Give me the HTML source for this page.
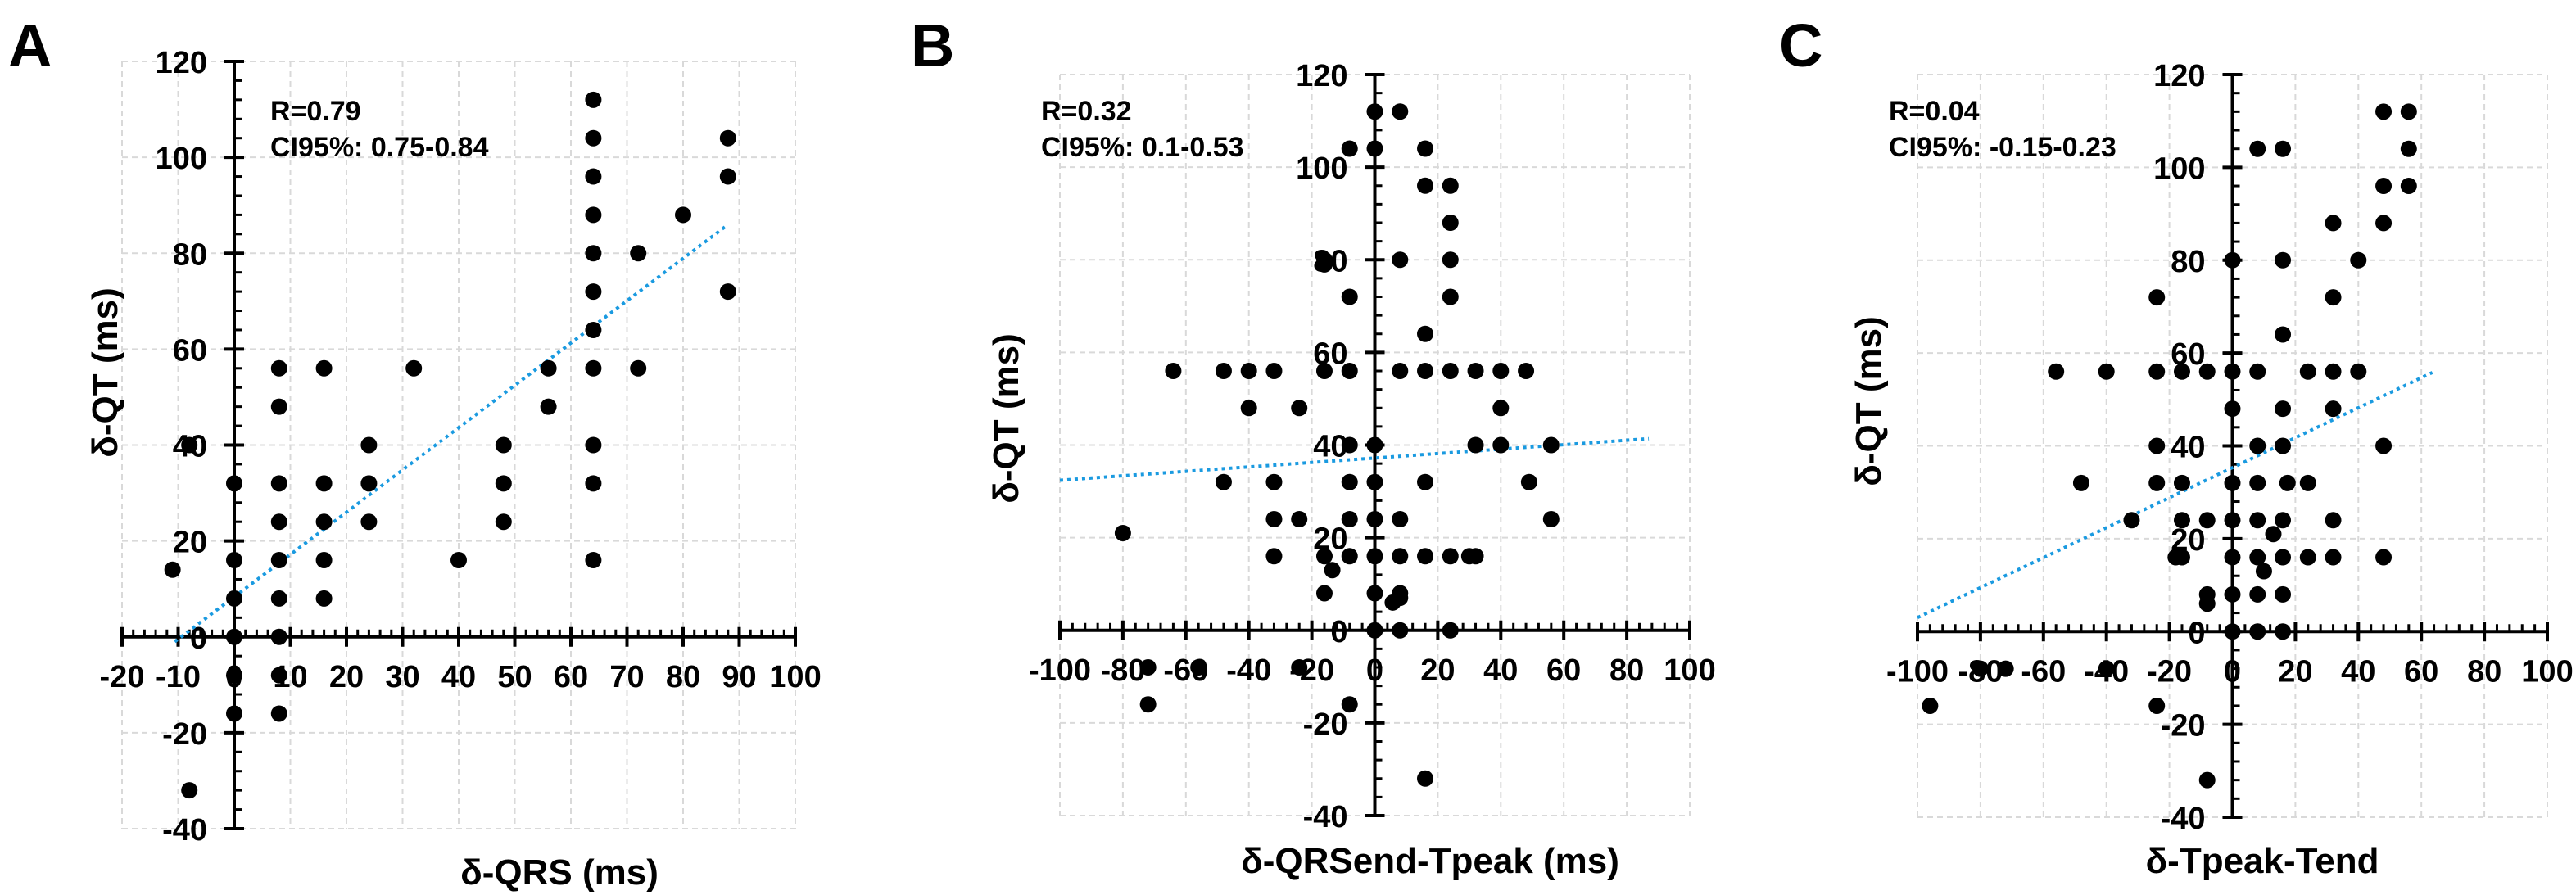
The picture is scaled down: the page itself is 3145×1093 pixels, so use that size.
<!DOCTYPE html>
<html><head><meta charset="utf-8"><style>
html,body{margin:0;padding:0;background:#fff;}
svg{display:block;font-family:"Liberation Sans",Arial,sans-serif;font-weight:bold;}
</style></head><body>
<svg id="fig" width="3145" height="1093" viewBox="0 0 3145 1093" xmlns="http://www.w3.org/2000/svg"></svg>
<script>
// ---- Panel A data ----
const aX = [-11,-8,-8, 0,0,0,0,0,0, 8,8,8,8,8,8,8,8,8, 16,16,16,16,16, 24,24,24, 32, 40, 48,48,48, 56,56, 64,64,64,64,64,64,64,64,64,64,64, 72,72, 80, 88,88,88];
const aY = [14,-32,40, 32,16,8,0,-8,-16, 56,48,32,24,16,8,0,-8,-16, 56,32,24,16,8, 40,32,24, 56, 16, 40,32,24, 56,48, 112,104,96,88,80,72,64,56,40,32,16, 80,56, 88, 104,96,72];
const aFit = [8.35, 0.882, -10.6, 88];
const aXTicks = [-20,-10,0,10,20,30,40,50,60,70,80,90,100];
const aYTicks = [-40,-20,0,20,40,60,80,100,120];
// ---- Panel B data ----
const bX = [0,8, -8,0,16, 16,24, 24, -16,-16,8,24, -8,24, 16,
 -64,-48,-40,-32,-16,-8,8,16,24,32,40,48, -40,-24,40, -8,0,32,40,56, -48,-32,-8,0,16,49,
 -32,-24,-8,0,8,56, -80, -32,-16,-8,0,8,16,24,30,32, -13.5, -16,0,8,8, 5.7, 0,8,24, -72,-56,-24, -72,-8, 16];
const bY = [112,112, 104,104,104, 96,96, 88, 80,79,80,80, 72,72, 64,
 56,56,56,56,56,56,56,56,56,56,56,56, 48,48,48, 40,40,40,40,40, 32,32,32,32,32,32,
 24,24,24,24,24,24, 21, 16,16,16,16,16,16,16,16,16, 13, 8,8,8,7, 6, 0,0,0, -8,-8,-8, -16,-16, -32];
const bFit = [37.2, 0.048, -100, 87];
const bXTicks = [-100,-80,-60,-40,-20,0,20,40,60,80,100];
const bYTicks = [-40,-20,0,20,40,60,80,100,120];
// ---- Panel C data ----
const cX = [48,56, 8,16,56, 48,56, 32,48, 0,16,40, -24,32, 16,
 -56,-40,-24,-16,-8,0,8,24,32,40, 0,16,32, -24,8,16,48, -48,-24,-16,0,8,17.5,24,
 -32,-16,-8,0,8,16,32, 13, -18,-16,0,8,16,24,32,48, 10, -8,0,8,16, -8, 0,8,16, -80,-72,-40, -96,-24, -8];
const cY = [112,112, 104,104,104, 96,96, 88,88, 80,80,80, 72,72, 64,
 56,56,56,56,56,56,56,56,56,56, 48,48,48, 40,40,40,40, 32,32,32,32,32,32,32,
 24,24,24,24,24,24,24, 21, 16,16,16,16,16,16,16,16, 13, 8,8,8,8, 6, 0,0,0, -8,-8,-8, -16,-16, -32];
const cFit = [35.3, 0.323, -100, 63.5];
const cXTicks = [-100,-80,-60,-40,-20,0,20,40,60,80,100];
const cYTicks = [-40,-20,0,20,40,60,80,100,120];

const NS = "http://www.w3.org/2000/svg";
const svg = document.getElementById('fig');
function mk(tag, attrs, parent, text) {
  const e = document.createElementNS(NS, tag);
  for (const k in attrs) e.setAttribute(k, attrs[k]);
  if (text !== undefined) e.textContent = text;
  (parent || svg).appendChild(e);
  return e;
}

function panel(cfg) {
  const g = mk('g', {});
  
  
  const sx = v => cfg.px0 + (v - cfg.xmin) / (cfg.xmax - cfg.xmin) * (cfg.px1 - cfg.px0);
  const sy = v => cfg.py0 + (v - cfg.ymin) / (cfg.ymax - cfg.ymin) * (cfg.py1 - cfg.py0);
  const ax = sx(0), ay = sy(0);
  // grid
  const grid = mk('g', {stroke: '#d9d9d9', 'stroke-width': 2, 'stroke-dasharray': '7,5'}, g);
  
  
  for (const t of cfg.xTicks) mk('line', {x1: sx(t), x2: sx(t), y1: sy(cfg.ymax), y2: sy(cfg.ymin)}, grid);
  for (const t of cfg.yTicks) mk('line', {x1: sx(cfg.xmin), x2: sx(cfg.xmax), y1: sy(t), y2: sy(t)}, grid);
  // axes
  const axes = mk('g', {stroke: '#000', 'stroke-width': 4}, g);
  
  
  mk('line', {x1: sx(cfg.xmin), x2: sx(cfg.xmax), y1: ay, y2: ay}, axes);
  mk('line', {x1: ax, x2: ax, y1: sy(cfg.ymax), y2: sy(cfg.ymin)}, axes);
  for (let v = cfg.xmin; v <= cfg.xmax + 1e-6; v += cfg.xMinor) {
    mk('line', {x1: sx(v), x2: sx(v), y1: ay - 9, y2: ay, 'stroke-width': 3}, axes);
  }
  for (const t of cfg.xTicks) mk('line', {x1: sx(t), x2: sx(t), y1: ay - 12, y2: ay + 12}, axes);
  for (let v = cfg.ymin; v <= cfg.ymax + 1e-6; v += cfg.yMinor) {
    mk('line', {x1: ax, x2: ax + 9, y1: sy(v), y2: sy(v), 'stroke-width': 3}, axes);
  }
  for (const t of cfg.yTicks) mk('line', {x1: ax - 12, x2: ax + 12, y1: sy(t), y2: sy(t)}, axes);
  // tick labels
  for (const t of cfg.xTicks) {
    const e = mk('text', {x: sx(t), y: ay + 61, 'text-anchor': 'middle', 'font-size': 38}, g, String(t));
    
    
  }
  for (const t of cfg.yTicks) {
    const e = mk('text', {x: ax - 33, y: sy(t) + 14, 'text-anchor': 'end', 'font-size': 38}, g, String(t));
    
    
  }
  // fit line
  const f = cfg.fit;
  const fl = mk('line', {x1: sx(f[2]), y1: sy(f[0] + f[1] * f[2]), x2: sx(f[3]), y2: sy(f[0] + f[1] * f[3]),
    stroke: '#1a9ae0', 'stroke-width': 4, 'stroke-dasharray': '4,5'}, g);
  
  
  // points
  for (let i = 0; i < cfg.xs.length; i++) {
    const c = mk('circle', {cx: sx(cfg.xs[i]), cy: sy(cfg.ys[i]), r: 10, fill: '#000'}, g);
    
    
  }
  // annotations
  const a1 = mk('text', {x: cfg.annX, y: 147, 'font-size': 34}, g, cfg.r);
  
  
  const a2 = mk('text', {x: cfg.annX, y: 191, 'font-size': 34}, g, cfg.ci);
  
  
  const L = mk('text', {x: cfg.letterX, y: 81, 'font-size': 74}, g, cfg.id);
  
  
  const xt = mk('text', {x: cfg.xtX, y: cfg.xtY, 'text-anchor': 'middle', 'font-size': 44}, g, cfg.xTitle);
  
  
  const yt = mk('text', {x: 0, y: 0, 'text-anchor': 'middle', 'font-size': 44,
    transform: 'translate(' + cfg.ytX + ',' + cfg.ytY + ') rotate(-90)'}, g, 'δ-QT (ms)');
  
  
}

panel({id: 'A', xs: aX, ys: aY, fit: aFit, xTicks: aXTicks, yTicks: aYTicks,
  xmin: -20, xmax: 100, ymin: -40, ymax: 120, px0: 149, px1: 971, py0: 1012, py1: 75,
  xMinor: 2, yMinor: 4, r: 'R=0.79', ci: 'CI95%: 0.75-0.84', annX: 330, letterX: 10,
  xTitle: 'δ-QRS (ms)', xtX: 683, xtY: 1080, ytX: 143, ytY: 455});
panel({id: 'B', xs: bX, ys: bY, fit: bFit, xTicks: bXTicks, yTicks: bYTicks,
  xmin: -100, xmax: 100, ymin: -40, ymax: 120, px0: 1294, px1: 2063, py0: 996, py1: 91,
  xMinor: 4, yMinor: 4, r: 'R=0.32', ci: 'CI95%: 0.1-0.53', annX: 1271, letterX: 1112,
  xTitle: 'δ-QRSend-Tpeak (ms)', xtX: 1746, xtY: 1066, ytX: 1243, ytY: 511});
panel({id: 'C', xs: cX, ys: cY, fit: cFit, xTicks: cXTicks, yTicks: cYTicks,
  xmin: -100, xmax: 100, ymin: -40, ymax: 120, px0: 2341, px1: 3110, py0: 998, py1: 91,
  xMinor: 4, yMinor: 4, r: 'R=0.04', ci: 'CI95%: -0.15-0.23', annX: 2306, letterX: 2172,
  xTitle: 'δ-Tpeak-Tend', xtX: 2762, xtY: 1066, ytX: 2296, ytY: 490});
</script>
</body></html>
